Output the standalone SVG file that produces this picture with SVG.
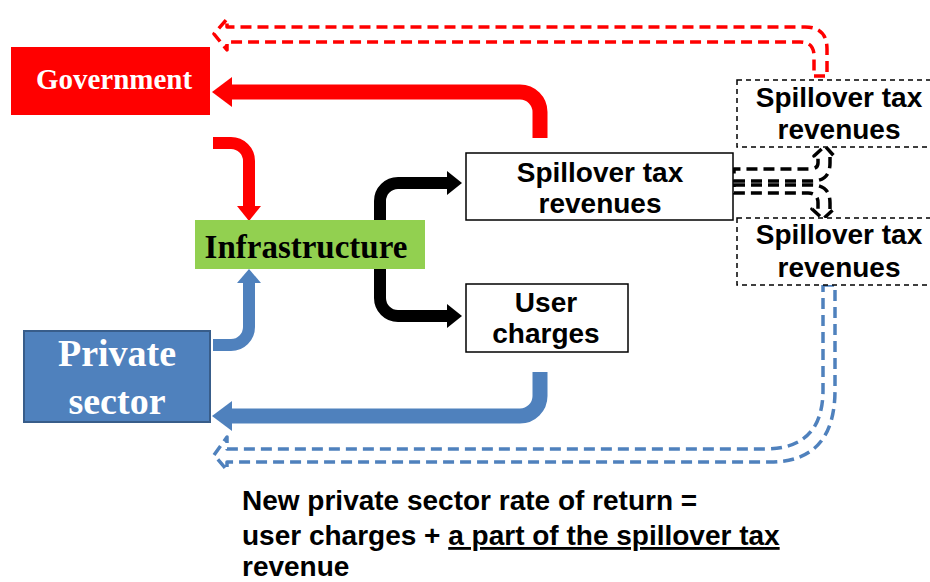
<svg xmlns="http://www.w3.org/2000/svg" width="930" height="582" viewBox="0 0 930 582">
<style>
.sans{font-family:"Liberation Sans",Arial,sans-serif;font-weight:bold;fill:#000}
.serif{font-family:"Liberation Serif","Times New Roman",serif;font-weight:bold}
.box{fill:#fff;stroke:#000;stroke-width:1.5}
.dbox{fill:#fff;stroke:#000;stroke-width:1.5;stroke-dasharray:5 4}
.thick{fill:none}
.dash{fill:none;stroke-width:3.5;stroke-dasharray:11 6;stroke-linejoin:round}
</style>
<rect width="930" height="582" fill="#fff"/>
<g id="connectors">
  <path class="thick" d="M540,138 V112 A20,20 0 0 0 520,92 H230" stroke="#FF0000" stroke-width="15"/>
  <polygon points="232,77 212,92 232,107" fill="#FF0000"/>
  <path class="thick" d="M213,143 H231 A18,18 0 0 1 249,161 V207" stroke="#FF0000" stroke-width="12"/>
  <polygon points="237,206 261,206 249,221" fill="#FF0000"/>
  <path class="thick" d="M213,345 H231 A18,18 0 0 0 249,327 V282" stroke="#4F81BD" stroke-width="12"/>
  <polygon points="237,283 261,283 249,269" fill="#4F81BD"/>
  <path class="thick" d="M380,221 V201 A18,18 0 0 1 398,183 H448" stroke="#000" stroke-width="12"/>
  <polygon points="447,171 447,195 462,183" fill="#000"/>
  <path class="thick" d="M380,268 V298 A18,18 0 0 0 398,316 H448" stroke="#000" stroke-width="12"/>
  <polygon points="447,304 447,328 462,316" fill="#000"/>
  <path class="thick" d="M540,372 V396 A20,20 0 0 1 520,416 H230" stroke="#4F81BD" stroke-width="15"/>
  <polygon points="232,401 212,416 232,431" fill="#4F81BD"/>
  <path class="dash" stroke="#FF0000" d="M814,76 H827 V49 Q827,27 805,27 H227 V19 L214,34 L227,50 V42 H800 Q814,42 814,56 Z"/>
  <path class="dash" stroke="#4F81BD" d="M823,285 H835 V390 Q835,462 770,462 H227 V470 L214,455 L227,437 V449 H765 Q823,449 823,390 Z"/>
  <path class="dash" stroke="#000" stroke-width="2.8" stroke-dasharray="9 5" d="M734,181 H812 Q830,181 830,163 V156 L834,156 L825,146 L814,156 L818,156 V163 Q818,169 810,169 H734 Z"/>
  <path class="dash" stroke="#000" stroke-width="2.8" stroke-dasharray="9 5" d="M734,185 H812 Q830,185 830,203 V209 L834,209 L823,219 L812,209 L818,209 V203 Q818,193 808,193 H734 Z"/>
</g>
<g id="government">
  <rect x="11" y="47" width="199" height="68" fill="#FF0000"/>
  <text class="serif" x="114" y="89" font-size="29" fill="#fff" text-anchor="middle">Government</text>
</g>
<g id="infrastructure">
  <rect x="195" y="220" width="230" height="49" fill="#92D050"/>
  <text class="serif" x="306" y="258" font-size="33" fill="#000" text-anchor="middle">Infrastructure</text>
</g>
<g id="private-sector">
  <rect x="24" y="331" width="186" height="91" fill="#4F81BD" stroke="#385D8A" stroke-width="2"/>
  <text class="serif" x="117" y="366" font-size="38" fill="#fff" text-anchor="middle">Private</text>
  <text class="serif" x="117" y="414" font-size="38" fill="#fff" text-anchor="middle">sector</text>
</g>
<g id="spillover-main">
  <rect class="box" x="466" y="153" width="267" height="67"/>
  <text class="sans" x="600" y="182" font-size="28" text-anchor="middle">Spillover tax</text>
  <text class="sans" x="600" y="213" font-size="28" text-anchor="middle">revenues</text>
</g>
<g id="user-charges">
  <rect class="box" x="466" y="284" width="162" height="68"/>
  <text class="sans" x="546" y="312" font-size="28" text-anchor="middle">User</text>
  <text class="sans" x="546" y="343" font-size="28" text-anchor="middle">charges</text>
</g>
<g id="spillover-upper">
  <rect class="dbox" x="737" y="80" width="210" height="67"/>
  <text class="sans" x="839" y="107" font-size="28" text-anchor="middle">Spillover tax</text>
  <text class="sans" x="839" y="139" font-size="28" text-anchor="middle">revenues</text>
</g>
<g id="spillover-lower">
  <rect class="dbox" x="737" y="218" width="210" height="67"/>
  <text class="sans" x="839" y="244" font-size="28" text-anchor="middle">Spillover tax</text>
  <text class="sans" x="839" y="277" font-size="28" text-anchor="middle">revenues</text>
</g>
<g id="formula">
  <text class="sans" x="242" y="510" font-size="28">New private sector rate of return =</text>
  <text class="sans" x="242" y="545" font-size="28">user charges + <tspan text-decoration="underline">a part of the spillover tax</tspan></text>
  <text class="sans" x="242" y="576" font-size="28">revenue</text>
</g>
</svg>
